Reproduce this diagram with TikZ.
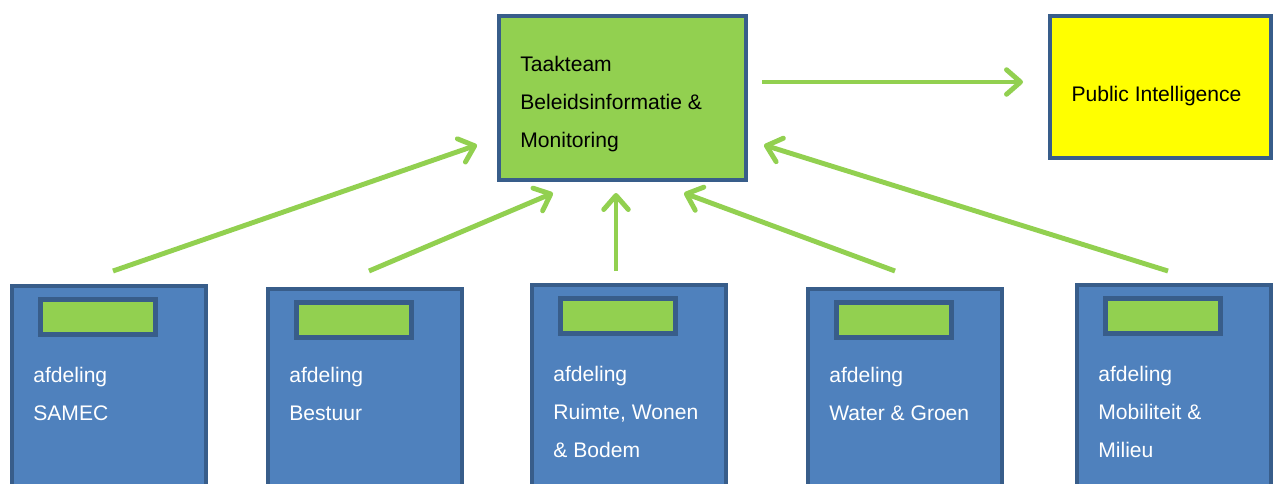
\documentclass[tikz,border=0pt]{standalone}
\usepackage{fontspec}
\setmainfont{Liberation Sans}
\usetikzlibrary{positioning, calc, arrows.meta}

\definecolor{leafgreen}{HTML}{92D050}
\definecolor{deptblue}{HTML}{4F81BD}
\definecolor{edgeblue}{HTML}{385D8A}
\definecolor{pubyellow}{HTML}{FFFF00}

\begin{document}
\begin{tikzpicture}[font=\fontsize{12}{21.5}\selectfont,
    taskbox/.style={draw=edgeblue, line width=0.08cm, anchor=north west},
    deptbox/.style={draw=edgeblue, fill=deptblue, line width=0.08cm, anchor=north west,
      minimum width=3.88cm, minimum height=6cm},
    bar/.style={draw=edgeblue, fill=leafgreen, line width=0.1cm, anchor=north west,
      minimum width=2.3cm, minimum height=0.7cm},
    deptlabel/.style={anchor=north west, inner sep=0pt, align=left, text=white},
    flow/.style={-{Straight Barb[length=8pt, width=14pt, round]}, draw=leafgreen, line width=2.8pt}]
  \clip (0,0) rectangle (25.5,-9.66);

  % top row
  \node[taskbox, fill=leafgreen, minimum width=4.94cm, minimum height=3.28cm] (taakteam) at (9.94,-0.28) {};
  \node[anchor=west, inner sep=0pt, align=left] (taakteam-txt) at ([shift={(0.46,-0.12)}]taakteam.west)
        {Taakteam\\Beleidsinformatie \&\\Monitoring};
  \node[taskbox, fill=pubyellow, minimum width=4.42cm, minimum height=2.84cm] (public) at (20.96,-0.28) {};
  \node (public-txt) at ([shift={(-0.08,-0.18)}]public.center) {Public Intelligence};

  % afdelingen
  \node[deptbox] (samec)    at (0.2,-5.68) {};
  \node[deptbox] (bestuur)  at (5.32,-5.74) {};
  \node[deptbox] (ruimte)   at (10.6,-5.66) {};
  \node[deptbox] (water)    at (16.12,-5.74) {};
  \node[deptbox] (milieu)   at (21.5,-5.66) {};

  \foreach \d in {samec, bestuur, ruimte, water, milieu}
    \node[bar] (\d-bar) at ([shift={(0.56,-0.26)}]\d.north west) {};

  \node[deptlabel] (samec-txt)   at ([shift={(0.46,-1.66)}]samec.north west)   {afdeling\\SAMEC};
  \node[deptlabel] (bestuur-txt) at ([shift={(0.46,-1.6)}]bestuur.north west)  {afdeling\\Bestuur};
  \node[deptlabel] (ruimte-txt)  at ([shift={(0.46,-1.66)}]ruimte.north west)  {afdeling\\Ruimte, Wonen\\\& Bodem};
  \node[deptlabel] (water-txt)   at ([shift={(0.46,-1.6)}]water.north west)    {afdeling\\Water \& Groen};
  \node[deptlabel] (milieu-txt)  at ([shift={(0.46,-1.66)}]milieu.north west)  {afdeling\\Mobiliteit \&\\Milieu};

  % arrow ends
  \coordinate (tt-out)  at (15.24,-1.64);
  \coordinate (pi-in)   at (20.46,-1.64);
  \coordinate (s-out)   at (2.26,-5.42);
  \coordinate (b-out)   at (7.38,-5.42);
  \coordinate (r-out)   at (12.32,-5.42);
  \coordinate (w-out)   at (17.9,-5.42);
  \coordinate (m-out)   at (23.36,-5.42);
  \coordinate (tt-in1)  at (9.54,-2.9);
  \coordinate (tt-in2)  at (11.06,-3.86);
  \coordinate (tt-in3)  at (12.32,-3.86);
  \coordinate (tt-in4)  at (13.68,-3.86);
  \coordinate (tt-in5)  at (15.28,-2.9);

  \draw[flow] (tt-out) -- (pi-in);
  \draw[flow] (s-out) -- (tt-in1);
  \draw[flow] (b-out) -- (tt-in2);
  \draw[flow] (r-out) -- (tt-in3);
  \draw[flow] (w-out) -- (tt-in4);
  \draw[flow] (m-out) -- (tt-in5);
\end{tikzpicture}
\end{document}
